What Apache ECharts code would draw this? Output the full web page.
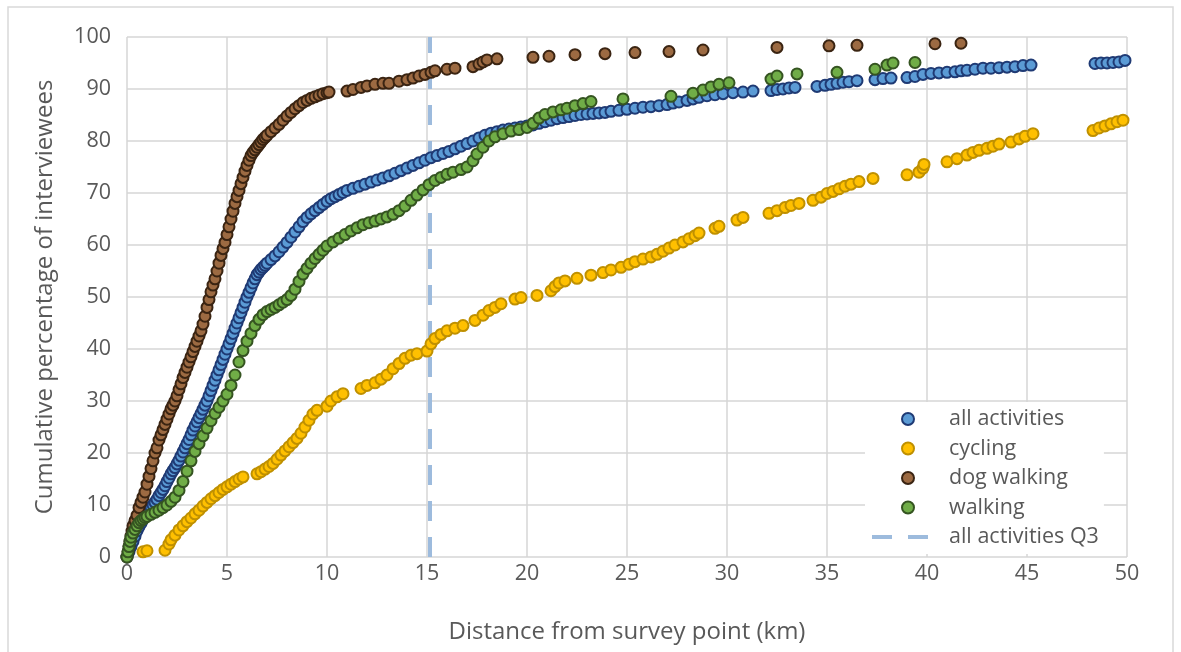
<!DOCTYPE html>
<html>
<head>
<meta charset="utf-8">
<script src="https://cdn.jsdelivr.net/npm/echarts@6/dist/echarts.min.js"></script>
<style>
  html, body { margin: 0; padding: 0; background: #ffffff; }
  #chart { width: 1181px; height: 652px; }
</style>
</head>
<body>
<div id="chart"></div>
<script>
// ---- data (x = distance km, y = cumulative %) ----
const seriesNames = ['all activities', 'cycling', 'dog walking', 'walking', 'all activities Q3'];
const xTicks = [0, 5, 10, 15, 20, 25, 30, 35, 40, 45, 50];
const yTicks = [0, 10, 20, 30, 40, 50, 60, 70, 80, 90, 100];
const q3Distance = 15.15;

const allActivities = [
  [0,0],[0.1,1],[0.2,2],[0.3,3],[0.4,4],[0.5,5],[0.6,5.8],[0.7,6.5],[0.8,7.2],[0.9,7.9],[1.0,8.5],[1.1,9],[1.2,9.5],[1.3,10],[1.4,10.5],[1.5,11.1],[1.6,11.8],[1.7,12.4],[1.8,13],[1.9,13.7],
  [2.0,14.5],[2.1,15.2],[2.2,16],[2.3,16.6],[2.4,17.2],[2.5,17.9],[2.6,18.6],[2.7,19.4],[2.8,20.2],[2.9,21],[3.0,21.8],[3.1,22.6],[3.2,23.5],[3.3,24.4],[3.4,25.2],[3.5,26],[3.6,26.8],[3.7,27.6],[3.8,28.4],[3.9,29.2],
  [4.0,30],[4.1,31],[4.2,32],[4.3,33],[4.4,34],[4.5,35],[4.6,36],[4.7,37],[4.8,38],[4.9,39],[5.0,40],[5.1,41],[5.2,42],[5.3,43],[5.4,44],[5.5,45],[5.6,46],[5.7,47],[5.8,48],[5.9,49],
  [6.0,50],[6.1,50.9],[6.2,51.8],[6.3,52.7],[6.4,53.5],[6.5,54.3],[6.6,54.8],[6.7,55.3],[6.8,55.7],[6.9,56.1],[7.0,56.5],[7.2,57.2],[7.4,57.9],[7.6,58.7],[7.8,59.6],[8.0,60.5],[8.2,61.5],[8.4,62.5],[8.6,63.5],[8.8,64.5],
  [9.0,65.3],[9.2,66],[9.4,66.6],[9.6,67.2],[9.8,67.8],[10.0,68.4],[10.2,68.9],[10.4,69.3],[10.6,69.7],[10.8,70.1],[11.0,70.5],[11.3,70.9],[11.6,71.3],[11.9,71.7],[12.2,72.1],[12.5,72.5],[12.8,72.9],[13.1,73.3],[13.4,73.8],[13.7,74.3],
  [14.0,74.8],[14.3,75.3],[14.6,75.8],[14.9,76.3],[15.2,76.8],[15.5,77.2],[15.8,77.6],[16.1,78],[16.4,78.5],[16.7,79],[17.0,79.5],[17.3,80],[17.6,80.6],[17.9,81.1],[18.2,81.5],[18.5,81.8],[18.8,82.1],[19.1,82.3],[19.4,82.5],[19.7,82.7],
  [20.0,82.9],[20.3,83.1],[20.6,83.4],[20.9,83.7],[21.2,84],[21.5,84.3],[21.8,84.5],[22.1,84.7],[22.4,84.9],[22.7,85.1],[23.0,85.2],[23.3,85.3],[23.6,85.4],[23.9,85.5],[24.2,85.7],[24.6,85.9],[25.0,86.1],[25.4,86.3],[25.8,86.5],[26.2,86.6],
  [26.6,86.8],[27.0,87.0],[27.3,87.3],[27.6,87.5],[28.0,87.8],[28.3,88.1],[28.6,88.4],[29.0,88.7],[29.4,88.9],[29.8,89.1],[30.3,89.3],[30.8,89.4],[31.3,89.6],[32.2,89.7],[32.5,89.9],[32.8,90.0],[33.1,90.2],[33.4,90.3],[34.5,90.5],[34.9,90.7],
  [35.2,90.9],[35.5,91.1],[35.8,91.3],[36.1,91.4],[36.5,91.6],[37.4,91.8],[37.8,92.0],[38.2,92.1],[39.0,92.2],[39.4,92.4],[39.8,92.8],[40.2,93.0],[40.6,93.1],[41.0,93.2],[41.4,93.3],[41.7,93.5],[42.0,93.6],[42.4,93.8],[42.8,94.0],[43.2,94.0],
  [43.6,94.1],[44.0,94.2],[44.4,94.3],[44.8,94.5],[45.2,94.6],[48.4,94.9],[48.7,95.0],[49.0,95.0],[49.3,95.1],[49.6,95.2],[49.9,95.5]
];

const cycling = [
  [0.8,1],[1.0,1.2],[1.9,1.3],[2.1,2.5],[2.2,3.3],[2.4,4.2],[2.6,5.2],[2.8,6],[3.0,6.8],[3.2,7.5],[3.4,8.3],[3.6,9],[3.8,9.8],[4.0,10.5],[4.2,11.2],[4.4,11.8],[4.6,12.4],[4.8,13],[5.0,13.5],[5.2,14],
  [5.4,14.5],[5.6,15],[5.8,15.4],[6.5,16],[6.7,16.4],[6.9,16.9],[7.1,17.4],[7.3,18],[7.5,18.8],[7.7,19.6],[7.9,20.4],[8.1,21.2],[8.3,22],[8.5,22.8],[8.7,23.8],[8.9,25],[9.1,26.3],[9.3,27.5],[9.5,28.2],[10.0,29],
  [10.2,30],[10.5,30.8],[10.8,31.4],[11.7,32.4],[12.0,33],[12.4,33.5],[12.7,34.2],[13.0,35],[13.3,36.2],[13.6,37.2],[13.9,38.2],[14.2,38.8],[14.5,39.1],[15.0,39.6],[15.2,41],[15.4,42],[15.7,42.8],[16.0,43.5],[16.4,44],[16.8,44.5],
  [17.4,45.5],[17.8,46.5],[18.1,47.4],[18.4,48],[18.7,48.7],[19.4,49.6],[19.7,49.9],[20.5,50.3],[21.2,51.2],[21.4,52],[21.6,52.7],[21.9,53.1],[22.5,53.6],[23.2,54.2],[23.8,54.7],[24.2,55.2],[24.7,55.7],[25.1,56.3],[25.4,56.8],[25.8,57.3],
  [26.2,57.7],[26.5,58.2],[26.8,58.8],[27.1,59.4],[27.4,60.0],[27.8,60.6],[28.1,61.2],[28.4,61.8],[28.6,62.3],[29.4,63.2],[29.6,63.6],[30.5,64.8],[30.8,65.3],[32.1,66.1],[32.5,66.6],[32.9,67.2],[33.2,67.6],[33.6,68.0],[34.3,68.6],[34.7,69.2],
  [35.0,69.9],[35.3,70.3],[35.6,70.8],[35.9,71.3],[36.2,71.7],[36.6,72.2],[37.3,72.8],[39.0,73.5],[39.6,74.0],[39.8,74.8],[39.85,75.5],[41.0,76.0],[41.5,76.6],[42.0,77.3],[42.3,77.8],[42.6,78.2],[43.0,78.6],[43.3,79.0],[43.6,79.4],[44.2,79.8],
  [44.6,80.4],[44.9,80.9],[45.3,81.4],[48.3,82.0],[48.6,82.5],[48.9,82.9],[49.2,83.3],[49.5,83.7],[49.8,84.0]
];

const dogWalking = [
  [0,0],[0.05,1],[0.1,2],[0.15,3],[0.2,4],[0.25,5],[0.3,6],[0.4,7],[0.5,8],[0.6,9.5],[0.7,10.5],[0.8,11.5],[0.9,12.5],[1.0,14],[1.1,15.5],[1.2,17],[1.3,18.5],[1.4,20],[1.5,21],[1.6,22.5],
  [1.7,23.5],[1.8,24.5],[1.9,25.5],[2.0,26.5],[2.1,27.5],[2.2,28.5],[2.3,29.2],[2.4,30],[2.5,31],[2.6,32.2],[2.7,33.3],[2.8,34.5],[2.9,35.5],[3.0,36.5],[3.1,37.5],[3.2,38.5],[3.3,39.5],[3.4,40.5],[3.5,41.5],[3.6,42.5],
  [3.7,43.5],[3.8,44.8],[3.9,46.3],[4.0,48],[4.1,49.5],[4.2,51],[4.3,52.3],[4.4,53.5],[4.5,55],[4.6,56.5],[4.7,58],[4.8,59.3],[4.9,60.5],[5.0,62],[5.1,63.5],[5.2,65],[5.3,66.5],[5.4,68],[5.5,69.3],[5.6,70.5],
  [5.7,71.8],[5.8,73],[5.9,74.2],[6.0,75.3],[6.1,76.3],[6.2,77.2],[6.3,77.8],[6.4,78.3],[6.5,78.8],[6.6,79.3],[6.7,79.8],[6.8,80.3],[6.9,80.7],[7.0,81.1],[7.2,81.8],[7.4,82.5],[7.6,83.2],[7.8,84],[8.0,84.8],[8.2,85.5],
  [8.4,86.2],[8.6,86.8],[8.8,87.4],[9.0,87.8],[9.2,88.2],[9.4,88.5],[9.6,88.8],[9.8,89.1],[10.0,89.3],[10.1,89.4],[11.0,89.6],[11.3,89.9],[11.7,90.3],[12.0,90.6],[12.4,90.9],[12.8,91.1],[13.1,91.1],[13.6,91.5],[14.0,91.8],[14.3,92.1],
  [14.6,92.5],[14.9,92.8],[15.2,93.2],[15.4,93.5],[16.0,93.8],[16.4,94.0],[17.3,94.3],[17.6,94.8],[17.8,95.2],[18.0,95.6],[18.5,95.8],[20.3,96.1],[21.1,96.3],[22.4,96.6],[23.9,96.8],[25.4,97.0],[27.1,97.2],[28.8,97.5],[32.5,98.0],[35.1,98.3],
  [36.5,98.4],[40.4,98.7],[41.7,98.8]
];

const walking = [
  [0,0],[0.05,1],[0.1,2],[0.15,3],[0.2,3.8],[0.3,4.6],[0.4,5.3],[0.5,6],[0.6,6.6],[0.7,7],[0.8,7.3],[0.9,7.6],[1.0,7.8],[1.2,8.2],[1.4,8.6],[1.6,9],[1.8,9.5],[2.0,10],[2.2,10.7],[2.4,11.5],
  [2.6,12.8],[2.8,14.5],[3.0,16.5],[3.2,18.5],[3.4,20.3],[3.6,21.8],[3.8,23.3],[4.0,24.8],[4.2,26.2],[4.4,27.6],[4.6,28.8],[4.8,30],[5.0,31.3],[5.2,33],[5.4,35],[5.6,37.5],[5.8,39.7],[6.0,41.5],[6.2,43],[6.4,44.5],
  [6.6,45.7],[6.8,46.6],[7.0,47.2],[7.2,47.6],[7.4,48],[7.6,48.5],[7.8,49],[8.0,49.5],[8.2,50.3],[8.4,51.5],[8.6,53],[8.8,54.4],[9.0,55.5],[9.2,56.5],[9.4,57.4],[9.6,58.2],[9.8,59],[10.0,59.8],[10.3,60.6],[10.6,61.3],
  [10.9,62],[11.2,62.7],[11.5,63.3],[11.8,63.9],[12.1,64.3],[12.4,64.6],[12.7,65],[13.0,65.4],[13.3,65.9],[13.6,66.6],[13.9,67.5],[14.2,68.6],[14.5,69.6],[14.8,70.6],[15.1,71.6],[15.4,72.4],[15.7,73],[16.0,73.6],[16.3,74],[16.7,74.5],
  [17.0,75],[17.3,76.2],[17.5,77.5],[17.8,78.8],[18.1,80],[18.4,80.8],[18.8,81.4],[19.2,81.9],[19.6,82.2],[20.0,82.6],[20.3,83.4],[20.6,84.4],[20.9,85.1],[21.3,85.6],[21.7,86.0],[22.0,86.3],[22.4,86.8],[22.8,87.2],[23.2,87.6],[24.8,88.1],
  [27.2,88.6],[28.3,89.2],[28.8,89.8],[29.2,90.4],[29.6,90.9],[30.1,91.2],[32.2,91.9],[32.5,92.5],[33.5,92.9],[35.5,93.2],[37.4,93.8],[38.0,94.6],[38.3,95.0],[39.4,95.1]
];

const q3Line = [[q3Distance, 0], [q3Distance, 100]];

// ---- chart ----
const FONT = '"Open Sans", sans-serif';
const TXT = '#595959';
const Q3_COLOR = '#9dbbdd';
const chart = echarts.init(document.getElementById('chart'), null, { renderer: 'canvas' });

function scatter(name, data, fill, border) {
  return {
    name: name, type: 'scatter', data: data, symbol: 'circle', symbolSize: 11,
    itemStyle: { color: fill, borderColor: border, borderWidth: 2, opacity: 1 },
    emphasis: { disabled: true }, animation: false
  };
}

chart.setOption({
  animation: false,
  backgroundColor: '#ffffff',
  textStyle: { fontFamily: FONT, color: TXT },
  graphic: [{
    type: 'rect', shape: { x: 8, y: 7, width: 1165, height: 700 },
    style: { fill: 'none', stroke: '#d9d9d9', lineWidth: 1.5 }, silent: true, z: -10
  }],
  grid: { left: 127, right: 54, top: 37, bottom: 95, containLabel: false },
  xAxis: {
    type: 'value', min: xTicks[0], max: xTicks[xTicks.length - 1], interval: 5,
    name: 'Distance from survey point (km)', nameLocation: 'middle', nameGap: 63,
    nameTextStyle: { fontFamily: FONT, fontSize: 24, color: TXT },
    axisLine: { show: false }, axisTick: { show: false },
    axisLabel: { fontFamily: FONT, fontSize: 21.5, color: TXT, margin: 6 },
    splitLine: { show: true, lineStyle: { color: '#d6d6d6', width: 1.5 } }
  },
  yAxis: {
    type: 'value', min: yTicks[0], max: yTicks[yTicks.length - 1], interval: 10,
    name: 'Cumulative percentage of interviewees', nameLocation: 'middle', nameGap: 70,
    nameTextStyle: { fontFamily: FONT, fontSize: 24, color: TXT },
    axisLine: { show: false }, axisTick: { show: false },
    axisLabel: { fontFamily: FONT, fontSize: 21.5, color: TXT, margin: 16 },
    splitLine: { show: true, lineStyle: { color: '#d6d6d6', width: 1.5 } }
  },
  legend: {
    orient: 'vertical', left: 865, top: 402,
    data: [
      seriesNames[0], seriesNames[1], seriesNames[2], seriesNames[3],
      { name: seriesNames[4], itemStyle: { opacity: 0 },
        lineStyle: { color: Q3_COLOR, width: 4, type: [20, 16], opacity: 1 } }
    ],
    itemWidth: 72, itemHeight: 12, itemGap: 7.5,
    padding: [6, 5, 6, 5],
    backgroundColor: '#ffffff',
    textStyle: { fontFamily: FONT, fontSize: 21.5, color: TXT },
    selectedMode: false
  },
  series: [
    {
      name: seriesNames[4], type: 'line', data: q3Line, symbol: 'none', showSymbol: false,
      lineStyle: { color: Q3_COLOR, width: 4, type: [20, 16] },
      itemStyle: { color: Q3_COLOR }, animation: false, z: 1
    },
    scatter(seriesNames[0], allActivities, '#5b9bd5', '#1f3a74'),
    scatter(seriesNames[1], cycling, '#ffc000', '#bf9000'),
    scatter(seriesNames[2], dogWalking, '#9c6a42', '#3a2412'),
    scatter(seriesNames[3], walking, '#70ad47', '#355421')
  ]
});
</script>
</body>
</html>
